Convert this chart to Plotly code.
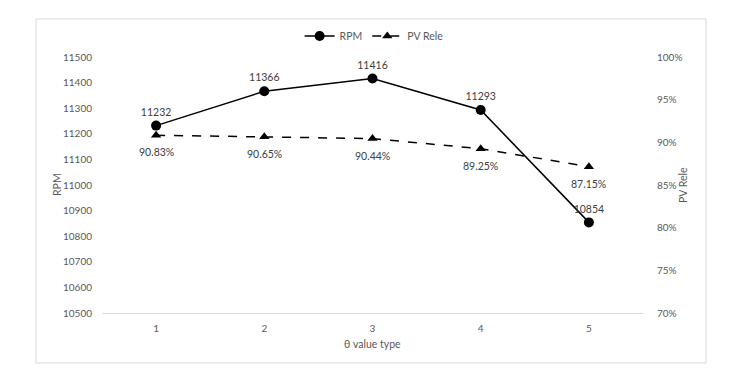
import plotly.graph_objects as go

categories = [1, 2, 3, 4, 5]
rpm = [11232, 11366, 11416, 11293, 10854]
pv_rele = [0.9083, 0.9065, 0.9044, 0.8925, 0.8715]
pv_labels = ["90.83%", "90.65%", "90.44%", "89.25%", "87.15%"]

FONT = "Lato"
GRAY = "#595959"
LABEL = "#404040"
TS = 10.5
TK = 10

fig = go.Figure()
fig.add_trace(go.Scatter(
    x=categories, y=rpm, name="RPM", mode="lines+markers+text",
    line=dict(color="black", width=1.5),
    marker=dict(symbol="circle", size=10, color="black"),
    text=[str(v) for v in rpm], textposition="top center",
    textfont=dict(family=FONT, size=TS, color=LABEL),
    cliponaxis=False,
))
fig.add_trace(go.Scatter(
    x=categories, y=pv_rele, name="PV Rele", mode="lines+markers",
    yaxis="y2",
    line=dict(color="black", width=1.5, dash="dash"),
    marker=dict(symbol="triangle-up", size=9, color="black"),
    cliponaxis=False,
))

annotations = [
    dict(text="RPM", xref="paper", yref="paper", x=(57 - 102) / 541, y=(313 - 185) / 256,
         xanchor="center", yanchor="middle",
         textangle=-90, showarrow=False, font=dict(family=FONT, size=TS, color=GRAY)),
    dict(text="PV Rele", xref="paper", yref="paper", x=(683 - 102) / 541, y=(313 - 185) / 256,
         xanchor="center", yanchor="middle",
         textangle=-90, showarrow=False, font=dict(family=FONT, size=TS, color=GRAY)),
    dict(text="θ value type", xref="paper", yref="paper", x=(372 - 102) / 541, y=(313 - 344) / 256,
         xanchor="center", yanchor="middle",
         showarrow=False, font=dict(family=FONT, size=TS, color=GRAY)),
]
for c, v, t in zip(categories, pv_rele, pv_labels):
    annotations.append(dict(x=c, y=v, xref="x", yref="y2", text=t, showarrow=False,
                            yshift=-17, font=dict(family=FONT, size=TS, color=LABEL)))

fig.update_layout(
    width=721, height=369,
    margin=dict(l=94, r=86, t=49, b=64),
    paper_bgcolor="white", plot_bgcolor="white",
    font=dict(family=FONT, size=TS, color=GRAY),
    showlegend=True,
    legend=dict(orientation="h", x=0.503, xanchor="center", y=1.082, yanchor="middle",
                font=dict(family=FONT, size=TS, color=GRAY), itemwidth=30,
                bgcolor="rgba(0,0,0,0)"),
    xaxis=dict(range=[0.5, 5.5], tickvals=categories, ticktext=[str(c) for c in categories],
               showgrid=False, zeroline=False, showline=True, linecolor="#d9d9d9", linewidth=1,
               ticks="", ticklabelstandoff=6, tickfont=dict(family=FONT, size=TK, color=GRAY)),
    yaxis=dict(range=[10500, 11500], dtick=100, tickformat="d", showgrid=False, zeroline=False,
               showline=False, ticks="", ticklabelstandoff=9,
               tickfont=dict(family=FONT, size=TK, color=GRAY)),
    yaxis2=dict(range=[0.70, 1.00], dtick=0.05, tickformat=".0%", overlaying="y", side="right",
                showgrid=False, zeroline=False, showline=False, ticks="", ticklabelstandoff=13,
                tickfont=dict(family=FONT, size=TK, color=GRAY)),
    shapes=[dict(type="rect", xref="paper", yref="paper",
                 x0=(36 - 102) / 541, x1=(706 - 102) / 541,
                 y0=(313 - 363) / 256, y1=(313 - 19) / 256,
                 line=dict(color="#d9d9d9", width=1), fillcolor="rgba(0,0,0,0)", layer="below")],
    annotations=annotations,
)

fig.write_html("out.html")
